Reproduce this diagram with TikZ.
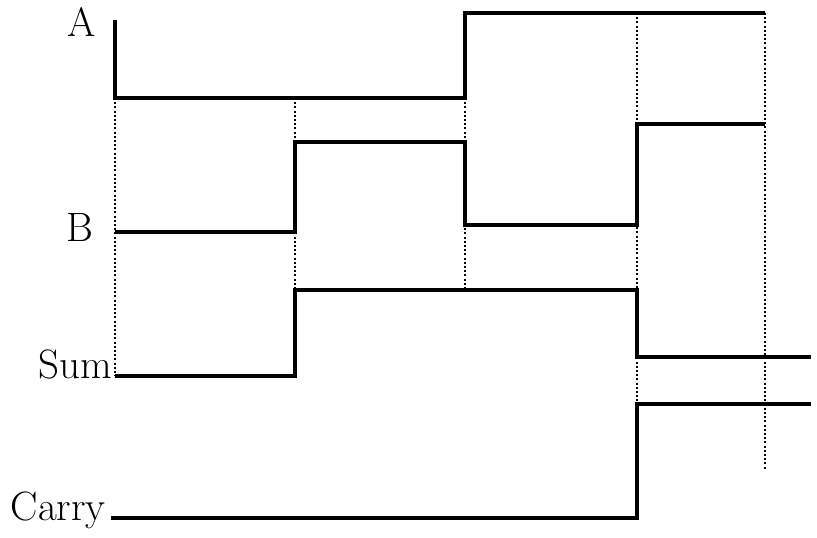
\documentclass[tikz,border=0pt]{standalone}
\usepackage{tikz}
\usetikzlibrary{calc}

\begin{document}
\begin{tikzpicture}[x=1pt,y=-1pt,
        wave/.style={line width=3.3pt},
        guide/.style={line width=2.2pt,dash pattern=on 2pt off 2.2pt},
        lbl/.style={inner sep=0pt,font=\fontsize{41}{42}\selectfont}]
        \useasboundingbox (0,0) rectangle (817,538);

        % dotted guides
        \draw[guide] (115,98)--(115,376);
        \draw[guide] (295,98)--(295,290);
        \draw[guide] (465,98)--(465,290);
        \draw[guide] (637,13)--(637,404);
        \draw[guide] (765,13)--(765,470);

        % waveforms
        \draw[wave] (115,20)--(115,98)--(465,98)--(465,13)--(765,13);
        \draw[wave] (115,232)--(295,232)--(295,142)--(465,142)--(465,225)--(637,225)--(637,124)--(765,124);
        \draw[wave] (115,376)--(295,376)--(295,290)--(637,290)--(637,357)--(811,357);
        \draw[wave] (111,518)--(637,518)--(637,404)--(811,404);

        \node[lbl,anchor=base] (A) at (82,36) {A};
        \node[lbl,anchor=base] (B) at (80,241) {B};
        \node[lbl,anchor=base east] (S) at (112,378) {Sum};
        \node[lbl,anchor=base east] (C) at (106,520) {Carry};
\end{tikzpicture}
\end{document}
